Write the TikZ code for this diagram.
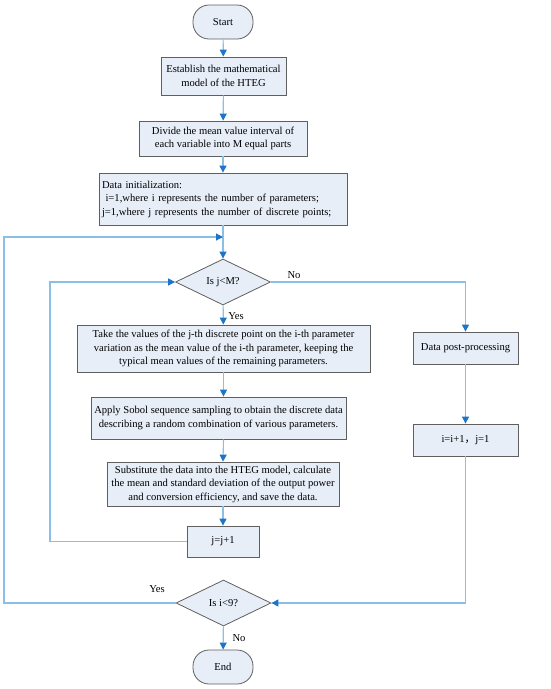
\documentclass[tikz,border=0pt]{standalone}
\usepackage{fontspec}
\setmainfont{Liberation Serif}
\newfontfamily\cjkfont{Noto Sans CJK SC}
\usetikzlibrary{shapes.geometric, arrows.meta, positioning, calc}
\usepackage{xcolor}
\definecolor{FlowFill}{HTML}{E8EEF7}
\definecolor{FlowBorder}{HTML}{5F5F5F}
\definecolor{FlowLine}{HTML}{8CBFE6}
\definecolor{FlowTip}{HTML}{1E74C6}
\tikzset{
    % Box styles
    terminal/.style={
        rectangle,
        rounded corners=16pt,
        draw=FlowBorder,
        fill=FlowFill,
        line width=0.8pt,
        minimum width=60pt,
        minimum height=34pt,
        align=center,
        font=\fontsize{10.6}{13}\selectfont
    },
    process/.style={
        rectangle,
        draw=FlowBorder,
        fill=FlowFill,
        line width=0.8pt,
        inner sep=2pt,
        align=center,
        font=\fontsize{10.6}{13.5}\selectfont
    },
    decision/.style={
        diamond,
        draw=FlowBorder,
        fill=FlowFill,
        line width=0.8pt,
        inner sep=0pt,
        minimum width=95pt,
        minimum height=46pt,
        aspect=2,
        align=center,
        font=\fontsize{10.6}{13}\selectfont
    },
    label/.style={
        font=\fontsize{10.6}{13}\selectfont
    },
    % Arrow styles
    arrow/.style={
        -{Triangle[length=7pt, width=7pt, color=FlowTip]},
        line width=1.1pt,
        draw=FlowLine
    }
}
\begin{document}
\begin{tikzpicture}[x=1pt, y=-1pt]
    \useasboundingbox (0,0) rectangle (550,689);

    % Main column
    \node[terminal] (start) at (223,22) {Start};
    \node[process, minimum width=125pt, minimum height=38pt] (model) at (223.5,76) {Establish the mathematical\\model of the HTEG};
    \node[process, minimum width=168pt, minimum height=35pt] (divide) at (223,138.5) {Divide the mean value interval of\\each variable into M equal parts};
    \node[process, minimum width=248pt, minimum height=52pt, align=left, text width=242pt] (init) at (223,199) {Data initialization:\\\ i=1,where i represents the number of parameters;\\j=1,where j represents the number of discrete points;};
    \coordinate (merge) at (223,237);

    % Inner loop over j
    \node[decision] (checkj) at (223,282) {Is j<M?};
    \node[process, minimum width=293pt, minimum height=47pt] (take) at (223.5,348.5) {Take the values of the j-th discrete point on the i-th parameter\\variation as the mean value of the i-th parameter, keeping the\\typical mean values of the remaining parameters.};
    \node[process, minimum width=255pt, minimum height=42pt] (sobol) at (218.5,418) {Apply Sobol sequence sampling to obtain the discrete data\\describing a random combination of various parameters.};
    \node[process, minimum width=232pt, minimum height=44pt] (calc) at (223,484) {Substitute the data into the HTEG model, calculate\\the mean and standard deviation of the output power\\and conversion efficiency, and save the data.};
    \node[process, minimum width=72pt, minimum height=31pt] (nextj) at (223,541.5) {j=j+1};

    % Right branch
    \node[process, minimum width=105pt, minimum height=32pt] (post) at (465.5,348) {Data post-processing};
    \node[process, minimum width=105pt, minimum height=32pt] (nexti) at (465.5,440) {i=i+1{\cjkfont ，}j=1};

    % Outer loop over i
    \node[decision] (checki) at (223.5,603) {Is i<9?};
    \node[terminal] (end) at (223,667) {End};

    % Labels
    \node[label] (yesj) at (236,316) {Yes};
    \node[label] (noj) at (294,275) {No};
    \node[label] (yesi) at (157,589) {Yes};
    \node[label] (noi) at (239,638) {No};

    % Arrows
    \draw[arrow] (start) -- (model);
    \draw[arrow] (model) -- (divide);
    \draw[arrow] (divide) -- (init);
    \draw[arrow] (init) -- (checkj);
    \draw[arrow] (checkj) -- (take);
    \draw[arrow] (take.south) -- (take.south |- sobol.north);
    \draw[arrow] (take.south |- sobol.south) -- (calc.north);
    \draw[arrow] (calc) -- (nextj);
    \draw[arrow] (nextj.west) -- (50,541.5) -- (50,282) -- (checkj.west);
    \draw[arrow] (checkj.east) -| (post.north);
    \draw[arrow] (post) -- (nexti);
    \draw[arrow] (nexti.south) |- (checki.east);
    \draw[arrow] (checki.west) -- (4,603) -- (4,237) -- (merge);
    \draw[arrow] (checki) -- (end);
\end{tikzpicture}
\end{document}
